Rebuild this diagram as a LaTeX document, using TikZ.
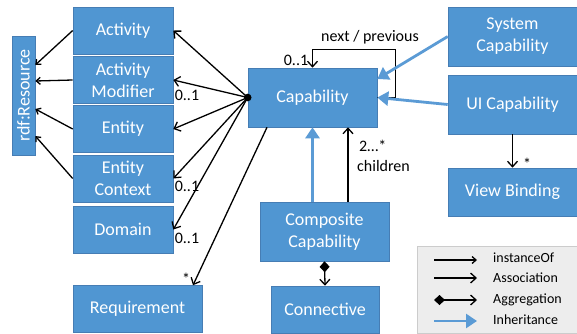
\documentclass[tikz,border=0pt]{standalone}
\usepackage{fontspec}
\setmainfont{Carlito}
\usetikzlibrary{arrows.meta}

\definecolor{boxblue}{RGB}{80,150,210}
\definecolor{boxedge}{RGB}{70,125,180}
\definecolor{inhblue}{RGB}{91,155,213}

\begin{document}
\begin{tikzpicture}[x=1pt,y=-1pt,
      box/.style={fill=boxblue,draw=boxedge,line width=0.6pt,text=white,
         inner sep=0pt,align=center,font=\fontsize{18}{22}\selectfont},
      assoc/.style={line width=1.3pt,-{Straight Barb[length=5.5pt,width=10pt]}},
      inst/.style={line width=1.3pt,-{Straight Barb[length=4pt,width=7pt]}},
      inh/.style={inhblue,line width=2.8pt,-{Triangle[length=11pt,width=14pt]}},
      aggr/.style={line width=1.3pt,
         {Diamond[length=11pt,width=10pt]}-{Straight Barb[length=5.5pt,width=10pt]}},
      lbl/.style={font=\fontsize{16}{19}\selectfont,inner sep=0pt},
      leg/.style={font=\fontsize{14}{17}\selectfont,inner sep=0pt,anchor=west}]
   \useasboundingbox (0,0) rectangle (577,333);

   % left column
   \node [box,minimum width=23pt,minimum height=119pt] (res) at (23.5,95.5)
      {\rotatebox{90}{rdf:Resource}};
   \node [box,minimum width=100pt,minimum height=47pt] (act) at (123,30.5) {Activity};
   \node [box,minimum width=100pt,minimum height=47pt] (actmod) at (123,80) {Activity\\Modifier};
   \node [box,minimum width=100pt,minimum height=47pt] (ent) at (123,129) {Entity};
   \node [box,minimum width=100pt,minimum height=47pt] (entctx) at (123,178.5) {Entity\\Context};
   \node [box,minimum width=100pt,minimum height=47pt] (dom) at (123,229.5) {Domain};
   \node [box,minimum width=129pt,minimum height=47pt] (req) at (137.5,309) {Requirement};

   % middle and right
   \node [box,minimum width=129pt,minimum height=59pt] (cap) at (312.5,97.5) {Capability};
   \node [box,minimum width=129pt,minimum height=59pt] (sys) at (512.5,36.5) {System\\Capability};
   \node [box,minimum width=129pt,minimum height=59pt] (ui) at (512.5,104.5) {UI Capability};
   \node [box,minimum width=129pt,minimum height=48pt] (vb) at (512.5,192) {View Binding};
   \node [box,minimum width=129pt,minimum height=59pt] (comp) at (324.5,231.5) {Composite\\Capability};
   \node [box,minimum width=108pt,minimum height=47pt] (conn) at (325,309.5) {Connective};

   % instanceOf
   \draw [inst] (act.west) -- ([yshift=30.5pt]res.east);
   \draw [inst] (actmod.west) -- ([yshift=14.5pt]res.east);
   \draw [inst] (ent.west) -- ([yshift=-13.5pt]res.east);
   \draw [inst] (entctx.west) -- ([yshift=-40.5pt]res.east);

   % associations
   \fill (cap.west) circle (3.8);
   \draw [assoc] (cap.west) -- (act.east);
   \draw [assoc] (cap.west) -- (actmod.east);
   \draw [assoc] (cap.west) -- (ent.east);
   \draw [assoc] (cap.west) -- (entctx.east);
   \draw [assoc] (cap.west) -- (dom.east);
   \draw [assoc] ([xshift=-45.5pt]cap.south) -- ([xshift=55.5pt]req.north);
   \draw [assoc] (cap.east) -| ([xshift=18pt,yshift=18pt]cap.north east) -| (cap.north);
   \draw [assoc] ([xshift=35.5pt]cap.south |- comp.north) -- ([xshift=35.5pt]cap.south);
   \draw [assoc] (ui.south) -- (vb.north);
   \draw [aggr] (comp.south) -- (conn.north);

   % inheritance
   \draw [inh] (sys.west) -- ([yshift=18.5pt]cap.east);
   \draw [inh] (ui.west) -- (cap.east);
   \draw [inh] (cap.south |- comp.north) -- (cap.south);

   % multiplicities
   \node [lbl] at (187,95) {0..1};
   \node [lbl] at (187,186) {0..1};
   \node [lbl] at (187,238) {0..1};
   \node [lbl] at (186,279) {*};
   \node [lbl] at (370,37) {next / previous};
   \node [lbl] at (296,60) {0..1};
   \node [lbl,anchor=west] at (359,146) {2…*};
   \node [lbl,anchor=west] at (357,166) {children};
   \node [lbl] at (527,164) {*};

   % legend
   \node [fill=black!7,draw=black!20,line width=0.8pt,minimum width=160pt,
      minimum height=87pt,inner sep=0pt] (legend) at (497,289.5) {};
   \coordinate (l1a) at (434,260); \coordinate (l1b) at (477,260);
   \coordinate (l2a) at (434,278); \coordinate (l2b) at (477,278);
   \coordinate (l3a) at (434,300); \coordinate (l3b) at (477,300);
   \coordinate (l4a) at (434,321); \coordinate (l4b) at (477,321);
   \draw [inst] (l1a) -- (l1b);
   \draw [assoc] (l2a) -- (l2b);
   \draw [aggr] (l3a) -- (l3b);
   \draw [inh] (l4a) -- (l4b);
   \node [leg] at (493,258) {instanceOf};
   \node [leg] at (493,278) {Association};
   \node [leg] at (493,300) {Aggregation};
   \node [leg] at (493,320) {Inheritance};
\end{tikzpicture}
\end{document}
